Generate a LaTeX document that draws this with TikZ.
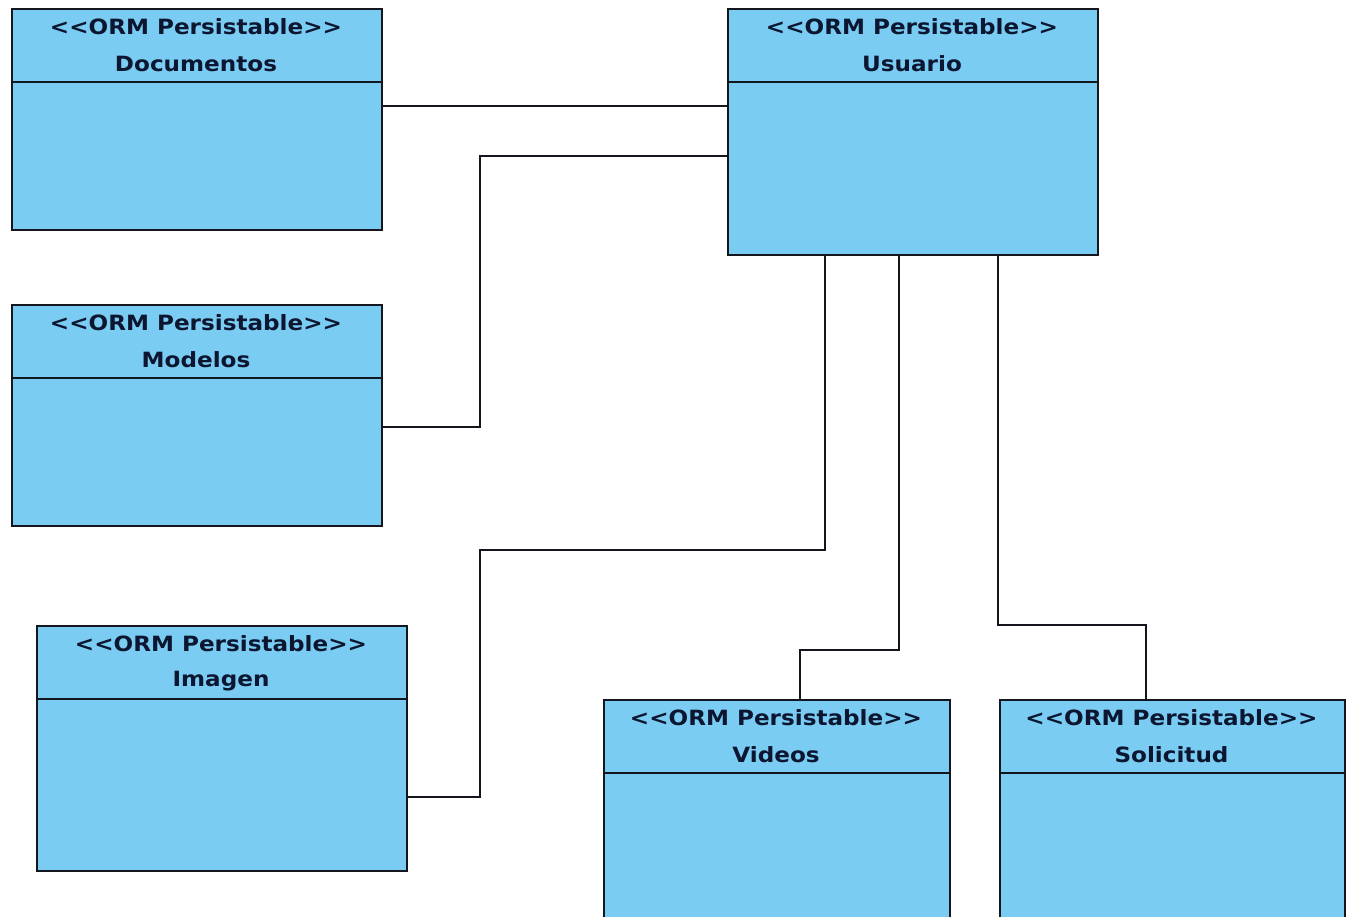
\documentclass[tikz,border=0pt]{standalone}
\usepackage{graphicx}
\usepackage{fontspec}
\setmainfont{DejaVu Sans}
\begin{document}
\begin{tikzpicture}[x=1pt,y=-1pt,
  classfill/.style={fill=umlblue, draw=umlline, line width=1.8pt},
  link/.style={draw=umlline, line width=1.8pt},
  ttl/.style={font=\fontsize{21}{24}\selectfont\bfseries, text=umltext, inner sep=0pt, anchor=center}]
\definecolor{umlblue}{HTML}{7ACCF2}
\definecolor{umlline}{HTML}{14161E}
\definecolor{umltext}{HTML}{0C1630}
\useasboundingbox (0,0) rectangle (1352,917);
\clip (0,0) rectangle (1352,917);
\fill[white] (0,0) rectangle (1352,917);

% wide bold title text
\newcommand{\widetxt}[1]{\scalebox{1.1}[1]{#1}}
% class box: #1 name, #2 left, #3 top, #4 right, #5 bottom, #6 class name
\newcommand{\umlclass}[6]{%
  \node[classfill, rectangle, inner sep=0pt, anchor=north west,
        minimum width={#4-#2}, minimum height={#5-#3}] (#1) at (#2,#3) {};
  \draw[link] (#2,#3+74) -- (#4,#3+74);
  \node[ttl] (#1-st) at ({(#2+#4)/2},#3+19) {\widetxt{<\kern0pt<ORM Persistable>\kern0pt>}};
  \node[ttl] (#1-nm) at ({(#2+#4)/2},#3+56) {\widetxt{#6}};
}

\umlclass{doc}{11}{8}{381}{229}{Documentos}
\umlclass{usr}{727}{8}{1097}{254}{Usuario}
\umlclass{mod}{11}{304}{381}{525}{Modelos}
\umlclass{img}{36}{625}{406}{870}{Imagen}
\umlclass{vid}{603}{699}{949}{960}{Videos}
\umlclass{sol}{999}{699}{1344}{960}{Solicitud}

% associations
\draw[link] (doc.east |- 0,106) -- (usr.west |- 0,106);
\draw[link] (mod.east |- 0,427) -- (480,427) -- (480,156) -- (usr.west |- 0,156);
\draw[link] (img.east |- 0,797) -- (480,797) -- (480,550) -- (825,550) -- (825,0 |- usr.south);
\draw[link] (899,0 |- usr.south) -- (899,650) -- (800,650) -- (800,0 |- vid.north);
\draw[link] (998,0 |- usr.south) -- (998,625) -- (1146,625) -- (1146,0 |- sol.north);
\end{tikzpicture}
\end{document}
